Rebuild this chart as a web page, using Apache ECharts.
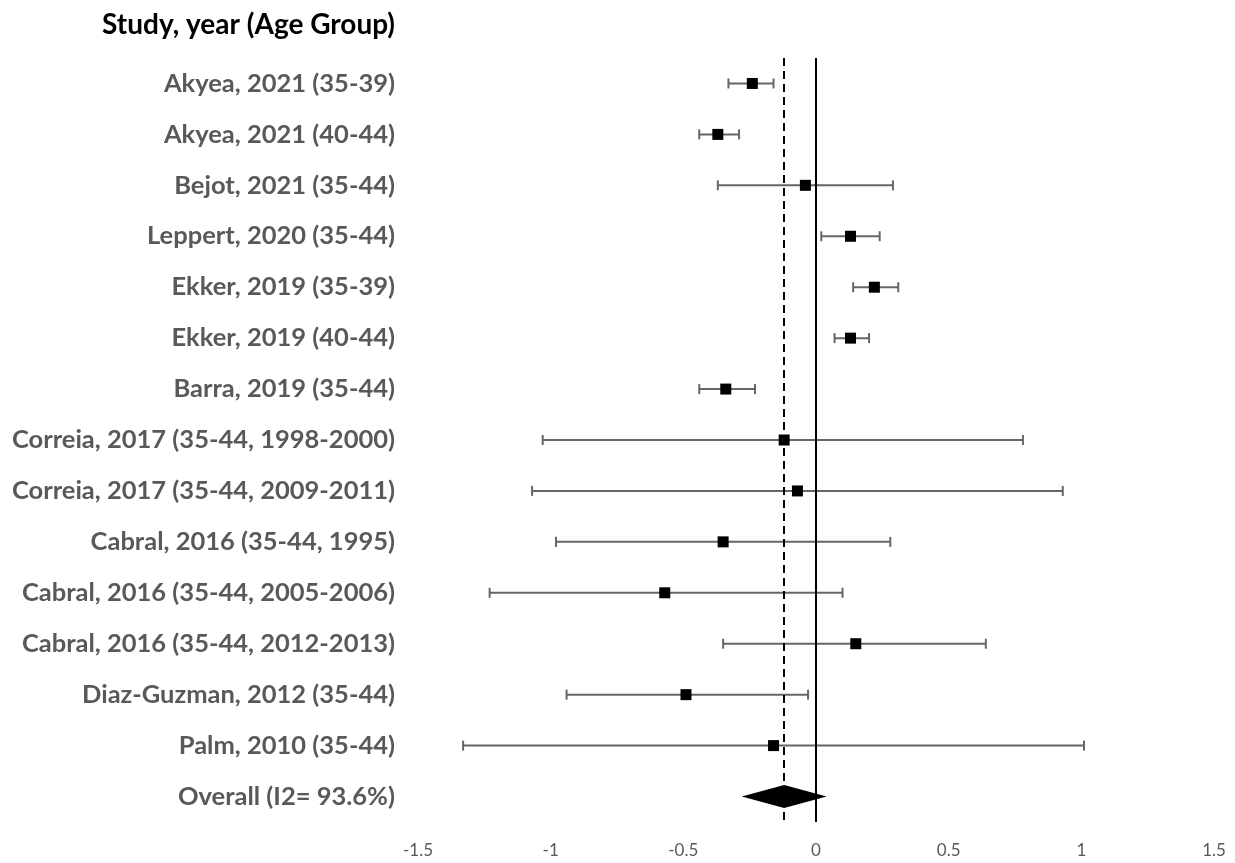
<!DOCTYPE html>
<html>
<head>
<meta charset="utf-8">
<script src="https://cdn.jsdelivr.net/npm/echarts@6/dist/echarts.min.js"></script>
<style>html,body{margin:0;padding:0;background:#fff}#chart{width:1235px;height:863px}</style>
</head>
<body>
<div id="chart"></div>
<script>
const headerTitle = "Study, year (Age Group)";
const studies = [
  "Akyea, 2021 (35-39)",
  "Akyea, 2021 (40-44)",
  "Bejot, 2021 (35-44)",
  "Leppert, 2020 (35-44)",
  "Ekker, 2019 (35-39)",
  "Ekker, 2019 (40-44)",
  "Barra, 2019 (35-44)",
  "Correia, 2017 (35-44, 1998-2000)",
  "Correia, 2017 (35-44, 2009-2011)",
  "Cabral, 2016 (35-44, 1995)",
  "Cabral, 2016 (35-44, 2005-2006)",
  "Cabral, 2016 (35-44, 2012-2013)",
  "Diaz-Guzman, 2012 (35-44)",
  "Palm, 2010 (35-44)"
];
const estimates = [-0.24, -0.37, -0.04, 0.13, 0.22, 0.13, -0.34, -0.12, -0.07, -0.35, -0.57, 0.15, -0.49, -0.16];
const lowerCI   = [-0.33, -0.44, -0.37, 0.02, 0.14, 0.07, -0.44, -1.03, -1.07, -0.98, -1.23, -0.35, -0.94, -1.33];
const upperCI   = [-0.16, -0.29, 0.29, 0.24, 0.31, 0.20, -0.23, 0.78, 0.93, 0.28, 0.10, 0.64, -0.03, 1.01];
const overallLabel = "Overall (I2= 93.6%)";
const overallEstimate = -0.12;
const overallLower = -0.28;
const overallUpper = 0.04;
const xTicks = [-1.5, -1, -0.5, 0, 0.5, 1, 1.5];

const categories = studies.concat([overallLabel]);
const overallIndex = categories.length - 1;

const chart = echarts.init(document.getElementById('chart'), null, {renderer: 'canvas'});
const labelFont = 'Lato';
const option = {
  animation: false,
  backgroundColor: '#ffffff',
  title: {
    text: headerTitle,
    right: 840,
    top: 11,
    padding: 0,
    textStyle: {fontFamily: labelFont, fontWeight: 'bold', fontSize: 28, color: '#000000'}
  },
  grid: {left: 418, right: 21, top: 58, bottom: 41},
  xAxis: {
    type: 'value',
    min: xTicks[0],
    max: xTicks[xTicks.length - 1],
    interval: 0.5,
    axisLine: {show: false},
    axisTick: {show: false},
    splitLine: {show: false},
    axisLabel: {color: '#595959', fontSize: 17, fontFamily: labelFont, margin: 20}
  },
  yAxis: {
    type: 'category',
    data: categories,
    inverse: true,
    axisLine: {show: false},
    axisTick: {show: false},
    splitLine: {show: false},
    axisLabel: {color: '#595959', fontSize: 25.5, fontWeight: 'bold', fontFamily: labelFont, margin: 23}
  },
  series: [
    {
      type: 'custom',
      name: 'ci',
      z: 2,
      data: studies.map((s, i) => [lowerCI[i], upperCI[i], i]),
      renderItem: function (params, api) {
        const p1 = api.coord([api.value(0), api.value(2)]);
        const p2 = api.coord([api.value(1), api.value(2)]);
        const h = 5;
        const st = {stroke: '#666666', lineWidth: 2};
        return {
          type: 'group',
          children: [
            {type: 'line', shape: {x1: p1[0], y1: p1[1], x2: p2[0], y2: p2[1]}, style: st},
            {type: 'line', shape: {x1: p1[0], y1: p1[1] - h, x2: p1[0], y2: p1[1] + h}, style: st},
            {type: 'line', shape: {x1: p2[0], y1: p2[1] - h, x2: p2[0], y2: p2[1] + h}, style: st}
          ]
        };
      },
      markLine: {
        silent: true,
        symbol: 'none',
        label: {show: false},
        data: [
          {xAxis: 0, lineStyle: {color: '#000000', width: 2, type: 'solid', opacity: 1}},
          {xAxis: overallEstimate, lineStyle: {color: '#000000', width: 2, type: [8, 5], opacity: 1}}
        ]
      }
    },
    {
      type: 'scatter',
      name: 'est',
      z: 4,
      symbol: 'rect',
      symbolSize: 11,
      itemStyle: {color: '#000000', opacity: 1},
      data: studies.map((s, i) => [estimates[i], i])
    },
    {
      type: 'custom',
      name: 'overall',
      z: 4,
      data: [[overallLower, overallEstimate, overallUpper, overallIndex]],
      renderItem: function (params, api) {
        const l = api.coord([api.value(0), api.value(3)]);
        const c = api.coord([api.value(1), api.value(3)]);
        const r = api.coord([api.value(2), api.value(3)]);
        const hh = api.size([0, 1])[1] * 0.225;
        return {
          type: 'polygon',
          shape: {points: [[l[0], l[1]], [c[0], c[1] - hh], [r[0], r[1]], [c[0], c[1] + hh]]},
          style: {fill: '#000000'}
        };
      }
    }
  ]
};
chart.setOption(option);
</script>
</body>
</html>
